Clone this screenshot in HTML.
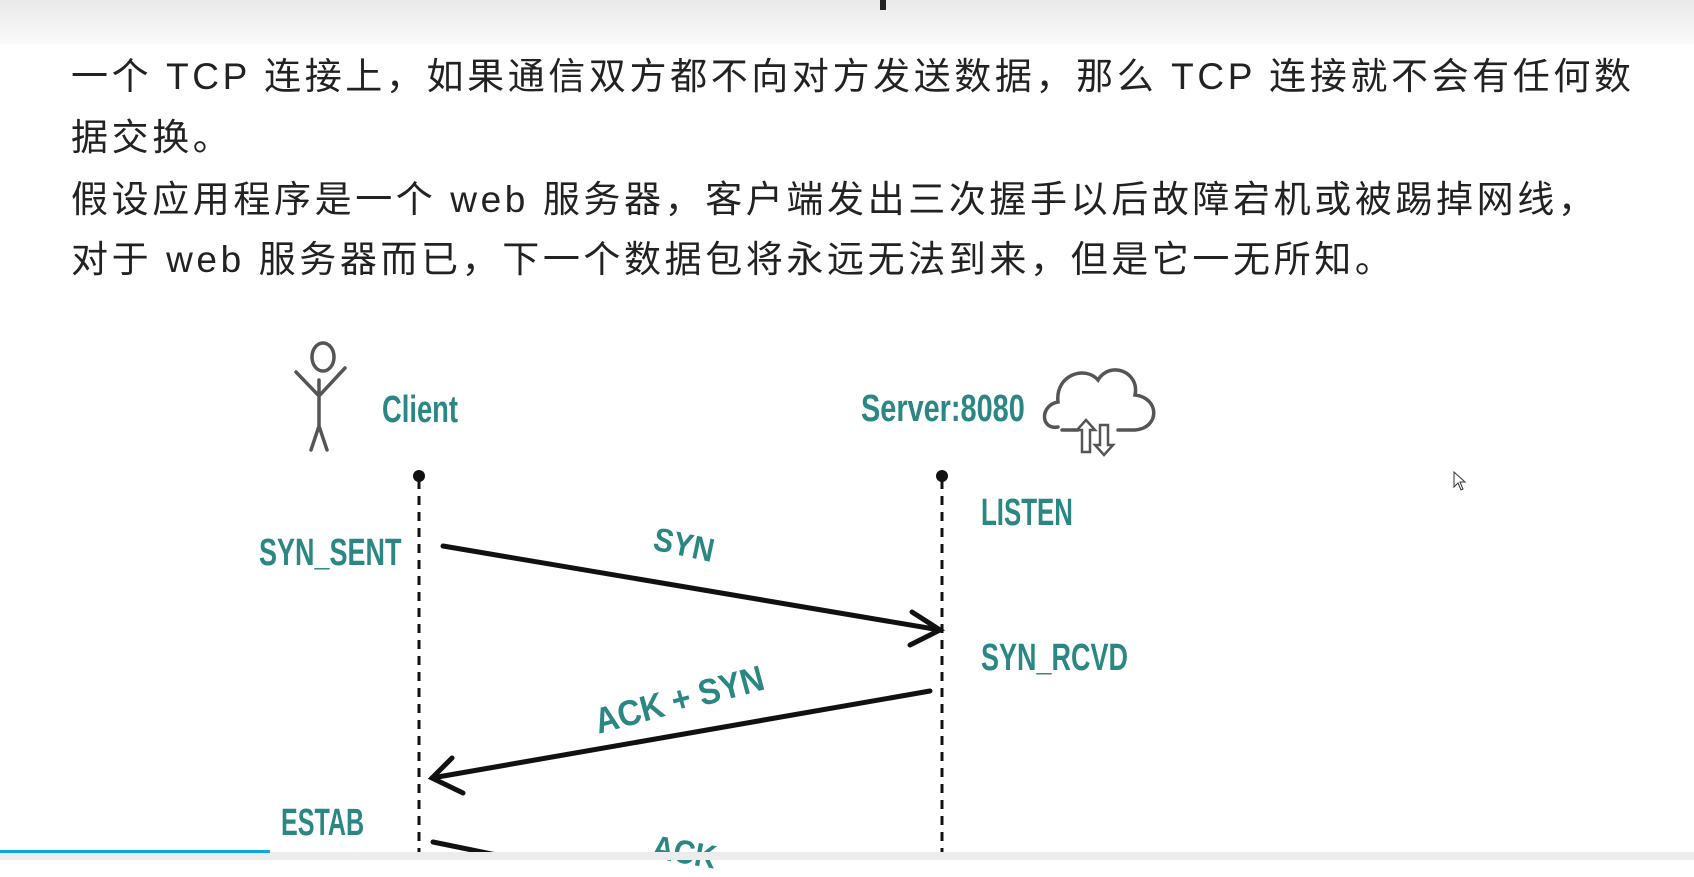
<!DOCTYPE html>
<html><head><meta charset="utf-8"><style>
html,body{margin:0;padding:0}
body{width:1694px;height:860px;position:relative;overflow:hidden;background:#fff;font-family:"Liberation Sans","Noto Sans CJK SC",sans-serif}
.top{position:absolute;left:0;top:0;width:1694px;height:44px;background:linear-gradient(#e9e9e9,#fafafa)}
.p{position:absolute;left:71px;font-size:37px;color:#222;white-space:nowrap;line-height:40px;letter-spacing:3.6px}
.lbl{position:absolute;color:#2a8783;font-weight:bold;font-family:"Liberation Sans Narrow","Liberation Sans",sans-serif;white-space:nowrap;transform-origin:left top}
</style></head><body>
<div class="top"></div>
<div style="position:absolute;left:880px;top:0;width:6px;height:10px;background:#222"></div>
<div class="p" style="top:57px">一个 TCP 连接上，如果通信双方都不向对方发送数据，那么 TCP 连接就不会有任何数</div>
<div class="p" style="top:118px">据交换。</div>
<div class="p" style="top:180px">假设应用程序是一个 web 服务器，客户端发出三次握手以后故障宕机或被踢掉网线，</div>
<div class="p" style="top:240px">对于 web 服务器而已，下一个数据包将永远无法到来，但是它一无所知。</div>

<svg style="position:absolute;left:0;top:0" width="1694" height="860">
 <g stroke="#555" stroke-width="3.5" fill="none" stroke-linecap="round">
  <ellipse cx="323" cy="357" rx="11" ry="14"/>
  <path d="M296 372 L319 396 L345 368 M319 380 L319 426 M319 426 L311 450 M319 426 L327 450"/>
  <path d="M1058 427 C1040 430 1040 405 1058 402 C1055 375 1085 365 1098 380 C1110 360 1140 372 1135 395 C1160 398 1160 428 1135 430 L1118 430 M1078 430 L1062 430"/>
  <path d="M1082 452 L1082 430 L1077 430 L1086 420 L1095 430 L1090 430 L1090 452 Z" stroke-width="2.5"/>
  <path d="M1100 425 L1100 445 L1095 445 L1104 455 L1113 445 L1108 445 L1108 425 Z" stroke-width="2.5"/>
 </g>
 <g stroke="#111" stroke-width="3" stroke-dasharray="9 7">
  <line x1="419" y1="480" x2="419" y2="860"/>
  <line x1="942" y1="480" x2="942" y2="860"/>
 </g>
 <circle cx="419" cy="476" r="6" fill="#111"/>
 <circle cx="942" cy="476" r="6" fill="#111"/>
 <g stroke="#111" stroke-width="5" fill="none" stroke-linecap="round">
  <path d="M443 546 L940 630"/>
  <path d="M912 612 L940 630 L910 645"/>
  <path d="M930 691 L432 778"/>
  <path d="M452 758 L432 778 L463 793"/>
  <path d="M433 842 L570 870"/>
 </g>
</svg>

<div class="lbl" style="left:382px;top:389px;font-size:38px;transform:scaleX(0.72)">Client</div>
<div class="lbl" style="left:861px;top:388px;font-size:38px;transform:scaleX(0.76)">Server:8080</div>
<div class="lbl" style="left:981px;top:492px;font-size:38px;transform:scaleX(0.68)">LISTEN</div>
<div class="lbl" style="left:259px;top:532px;font-size:38px;transform:scaleX(0.71)">SYN_SENT</div>
<div class="lbl" style="left:981px;top:637px;font-size:38px;transform:scaleX(0.71)">SYN_RCVD</div>
<div class="lbl" style="left:281px;top:802px;font-size:38px;transform:scaleX(0.66)">ESTAB</div>
<div class="lbl" style="left:658px;top:520px;font-size:33px;transform:rotate(12deg) scaleX(0.9)">SYN</div>
<div class="lbl" style="left:590px;top:702px;font-size:36px;transform:rotate(-15deg) scaleX(0.9)">ACK + SYN</div>
<div class="lbl" style="left:656px;top:828px;font-size:33px;transform:rotate(10deg) scaleX(0.9)">ACK</div>

<svg style="position:absolute;left:1453px;top:471px" width="14" height="22"><path d="M1 1 L1 16 L5 12 L8 19 L10 18 L7 11 L12 11 Z" fill="#fff" stroke="#333" stroke-width="1"/></svg>
<div style="position:absolute;left:0;top:852px;width:1694px;height:8px;background:#ececec"></div>
<div style="position:absolute;left:0;top:850px;width:270px;height:3px;background:#0aa8e8"></div>
</body></html>
